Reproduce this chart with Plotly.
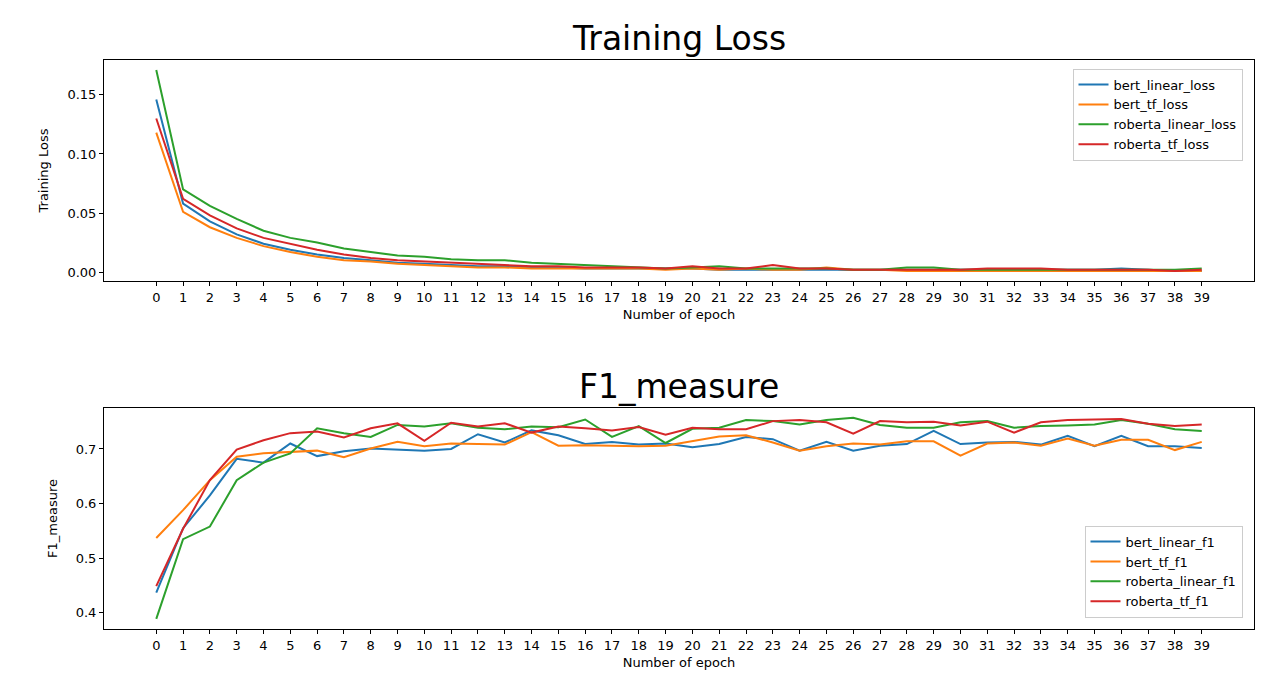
import plotly.graph_objects as go

epochs = list(range(40))
bert_linear_loss = [0.146,0.058,0.043,0.032,0.024,0.019,0.015,0.012,0.010,0.008,0.007,0.006,0.005,0.005,0.004,0.004,0.003,0.003,0.003,0.003,0.003,0.002,0.002,0.002,0.002,0.002,0.002,0.002,0.002,0.002,0.002,0.002,0.002,0.002,0.002,0.002,0.003,0.002,0.001,0.001]
bert_tf_loss = [0.118,0.051,0.038,0.029,0.022,0.017,0.013,0.010,0.009,0.007,0.006,0.005,0.004,0.004,0.003,0.003,0.003,0.003,0.003,0.002,0.003,0.002,0.003,0.002,0.002,0.004,0.002,0.002,0.001,0.001,0.001,0.001,0.001,0.001,0.001,0.001,0.001,0.001,0.001,0.001]
roberta_linear_loss = [0.171,0.070,0.056,0.045,0.035,0.029,0.025,0.020,0.017,0.014,0.013,0.011,0.010,0.010,0.008,0.007,0.006,0.005,0.004,0.003,0.004,0.005,0.003,0.003,0.003,0.003,0.002,0.002,0.004,0.004,0.002,0.002,0.002,0.002,0.002,0.002,0.002,0.002,0.002,0.003]
roberta_tf_loss = [0.130,0.062,0.048,0.037,0.029,0.024,0.019,0.015,0.012,0.010,0.009,0.008,0.007,0.006,0.005,0.005,0.004,0.004,0.004,0.003,0.005,0.003,0.003,0.006,0.003,0.003,0.002,0.002,0.002,0.002,0.002,0.003,0.003,0.003,0.002,0.002,0.002,0.002,0.001,0.002]

bert_linear_f1 = [0.437,0.555,0.615,0.682,0.675,0.71,0.687,0.696,0.701,0.699,0.697,0.700,0.727,0.712,0.734,0.725,0.709,0.713,0.708,0.710,0.703,0.709,0.722,0.718,0.697,0.713,0.697,0.706,0.709,0.733,0.709,0.712,0.713,0.708,0.724,0.705,0.724,0.705,0.705,0.702]
bert_tf_f1 = [0.537,0.588,0.643,0.686,0.692,0.695,0.697,0.685,0.701,0.713,0.705,0.710,0.709,0.708,0.731,0.706,0.707,0.706,0.705,0.706,0.714,0.723,0.725,0.712,0.697,0.705,0.710,0.708,0.714,0.714,0.688,0.710,0.712,0.706,0.719,0.706,0.717,0.717,0.698,0.713]
roberta_linear_f1 = [0.389,0.535,0.558,0.643,0.675,0.692,0.738,0.729,0.722,0.744,0.741,0.747,0.739,0.736,0.741,0.740,0.754,0.722,0.742,0.711,0.737,0.739,0.753,0.751,0.745,0.753,0.757,0.744,0.739,0.739,0.749,0.751,0.739,0.742,0.743,0.745,0.753,0.746,0.736,0.733]
roberta_tf_f1 = [0.449,0.554,0.643,0.699,0.716,0.729,0.732,0.721,0.738,0.747,0.715,0.748,0.741,0.747,0.730,0.741,0.738,0.734,0.740,0.726,0.739,0.736,0.736,0.751,0.753,0.749,0.728,0.751,0.749,0.750,0.743,0.750,0.730,0.749,0.753,0.754,0.755,0.746,0.742,0.745]

colors = ["#1f77b4", "#ff7f0e", "#2ca02c", "#d62728"]
fig = go.Figure()
for name, ys, c in zip(["bert_linear_loss","bert_tf_loss","roberta_linear_loss","roberta_tf_loss"],
                       [bert_linear_loss,bert_tf_loss,roberta_linear_loss,roberta_tf_loss], colors):
    fig.add_trace(go.Scatter(x=epochs, y=ys, name=name, mode="lines", line=dict(color=c, width=2),
                             xaxis="x", yaxis="y", legend="legend"))
for name, ys, c in zip(["bert_linear_f1","bert_tf_f1","roberta_linear_f1","roberta_tf_f1"],
                       [bert_linear_f1,bert_tf_f1,roberta_linear_f1,roberta_tf_f1], colors):
    fig.add_trace(go.Scatter(x=epochs, y=ys, name=name, mode="lines", line=dict(color=c, width=2),
                             xaxis="x2", yaxis="y2", legend="legend2"))

ax = dict(showline=True, linecolor="black", linewidth=1, mirror=True, showgrid=False, zeroline=False,
          automargin=False,
          ticks="outside", ticklen=4, tickcolor="black", tickfont=dict(size=13, color="black"))
xax = dict(ax, tickmode="array", tickvals=epochs, range=[-1.95, 40.95],
           title=dict(text="Number of epoch", font=dict(size=13, color="black"), standoff=6))
leg = dict(bgcolor="rgba(255,255,255,0.8)", bordercolor="#cccccc", borderwidth=1,
           font=dict(size=13, color="black"), xanchor="right", x=0.99, tracegroupgap=0)
fig.update_layout(
    width=1282, height=679, plot_bgcolor="white", paper_bgcolor="white",
    font=dict(family="DejaVu Sans", color="black"),
    margin=dict(l=96, r=36, t=52, b=58, autoexpand=False),
    xaxis=dict(xax, domain=[0, 1], anchor="y"),
    yaxis=dict(ax, domain=[0.6116, 1], range=[-0.0075, 0.1795], tickformat=".2f", dtick=0.05,
               title=dict(text="Training Loss", font=dict(size=13, color="black"))),
    xaxis2=dict(xax, domain=[0, 1], anchor="y2"),
    yaxis2=dict(ax, domain=[0, 0.3884], range=[0.3706, 0.775], tickformat=".1f", dtick=0.1,
                title=dict(text="F1_measure", font=dict(size=13, color="black"))),
    legend=dict(leg, y=0.985, yanchor="top"),
    legend2=dict(leg, y=0.02, yanchor="bottom"),
    annotations=[
        dict(text="Training Loss", x=0.5, y=1, xref="paper", yref="paper", yanchor="bottom", yshift=0,
             showarrow=False, font=dict(size=33, color="black")),
        dict(text="F1_measure", x=0.5, y=0.3884, xref="paper", yref="paper", yanchor="bottom", yshift=0,
             showarrow=False, font=dict(size=33, color="black")),
    ],
)
fig.write_html("out.html")
